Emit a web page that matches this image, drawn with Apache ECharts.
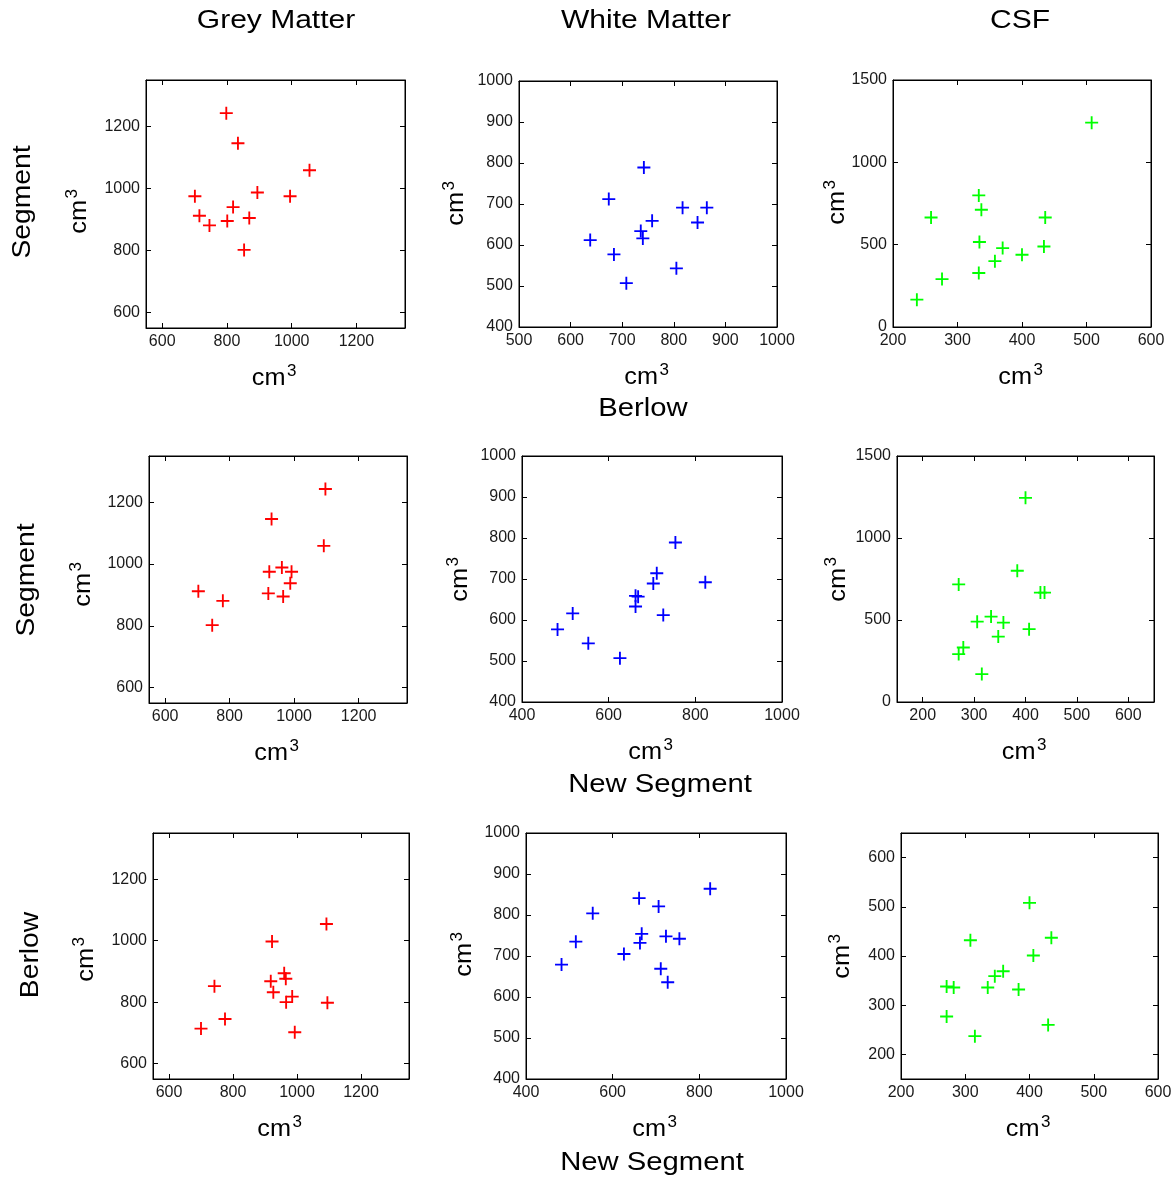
<!DOCTYPE html>
<html>
<head>
<meta charset="utf-8">
<script src="https://cdn.jsdelivr.net/npm/echarts@6/dist/echarts.min.js"></script>
<style>
html,body{margin:0;padding:0;background:#fff;}
#chart{width:1176px;height:1178px;}
</style>
</head>
<body>
<div id="chart"></div>
<script>
// ---------- Data (x, y) per panel ----------
// Row 1: y = Segment, x = Berlow
const gmBerlowSegment = [[798,1243],[834,1146],[1055,1059],[701,975],[894,987],[995,975],[819,940],[715,912],[746,881],[801,895],[869,905],[853,802]];
const wmBerlowSegment = [[742,789],[674,712],[758,659],[817,691],[864,691],[846,655],[736,634],[740,616],[638,612],[684,577],[708,507],[805,543]];
const csfBerlowSegment = [[508,1241],[333,799],[337,712],[259,665],[436,665],[334,516],[370,479],[434,489],[400,439],[358,400],[333,328],[276,291],[237,166]];
// Row 2: y = Segment, x = New Segment
const gmNewSegSegment = [[1097,1243],[930,1146],[1092,1059],[962,989],[923,975],[992,975],[988,938],[703,912],[920,905],[966,895],[779,881],[746,802]];
const wmNewSegSegment = [[754,789],[711,714],[703,689],[823,692],[662,659],[668,657],[662,633],[726,612],[517,616],[482,577],[553,543],[626,507]];
const csfNewSegSegment = [[400,1245],[384,800],[270,717],[429,667],[437,667],[333,521],[306,490],[357,484],[407,444],[347,399],[279,332],[270,292],[315,170]];
// Row 3: y = Berlow, x = New Segment
const gmNewSegBerlow = [[1092,1054],[922,997],[960,894],[965,876],[918,868],[742,852],[926,832],[985,818],[966,800],[1095,798],[775,745],[700,714],[993,702]];
const wmNewSegBerlow = [[825,864],[661,841],[706,821],[554,804],[667,754],[663,732],[723,748],[754,742],[515,735],[626,705],[482,679],[711,669],[727,636]];
const csfNewSegBerlow = [[400,508],[434,437],[308,432],[406,401],[359,369],[346,359],[335,336],[383,332],[271,338],[282,336],[271,277],[429,260],[315,237]];

// ---------- Tick labels ----------
const gmTicks = [600, 800, 1000, 1200];
const wmTicks100 = [400, 500, 600, 700, 800, 900, 1000];
const wmTicksX100 = [500, 600, 700, 800, 900, 1000];
const wmTicks200 = [400, 600, 800, 1000];
const csfTicks100 = [200, 300, 400, 500, 600];
const csfTicks500 = [0, 500, 1000, 1500];

// ---------- Text ----------
const columnTitles = ['Grey Matter', 'White Matter', 'CSF'];
const rowLabels = ['Segment', 'Segment', 'Berlow'];
const bottomLabels = ['Berlow', 'New Segment', 'New Segment'];

const FONT = '"Liberation Sans", Arial, Helvetica, sans-serif';
const RED = '#ff0000', BLUE = '#0000ff', GREEN = '#00ff00';

const panels = [
  {data: gmBerlowSegment, color: RED, grid: [146, 80, 259, 248], x: [550, 1350, gmTicks], y: [550, 1350, gmTicks]},
  {data: wmBerlowSegment, color: BLUE, grid: [519, 81, 258, 246], x: [500, 1000, wmTicksX100], y: [400, 1000, wmTicks100]},
  {data: csfBerlowSegment, color: GREEN, grid: [893, 80, 258, 247], x: [200, 600, csfTicks100], y: [0, 1500, csfTicks500]},
  {data: gmNewSegSegment, color: RED, grid: [149, 456, 258, 247], x: [550, 1350, gmTicks], y: [550, 1350, gmTicks]},
  {data: wmNewSegSegment, color: BLUE, grid: [522, 456, 260, 246], x: [400, 1000, wmTicks200], y: [400, 1000, wmTicks100]},
  {data: csfNewSegSegment, color: GREEN, grid: [897, 456, 257, 246], x: [150, 650, csfTicks100], y: [0, 1500, csfTicks500]},
  {data: gmNewSegBerlow, color: RED, grid: [153, 833, 256, 246], x: [550, 1350, gmTicks], y: [550, 1350, gmTicks]},
  {data: wmNewSegBerlow, color: BLUE, grid: [526, 833, 260, 246], x: [400, 1000, wmTicks200], y: [400, 1000, wmTicks100]},
  {data: csfNewSegBerlow, color: GREEN, grid: [901, 833, 257, 246], x: [200, 600, csfTicks100], y: [150, 650, csfTicks100]}
];

// rotated cm3 anchor positions
const yLabelPos = [[80,212],[457,204],[838,203],[84,585],[461,580],[839,580],[87,960],[465,955],[843,957]];

const PLUS = 'path://M12,0H16V12H28V16H16V28H12V16H0V12H12Z';
const plain = v => String(v);

const grids = [], xAxes = [], yAxes = [], series = [];
panels.forEach((p, i) => {
  grids.push({left: p.grid[0], top: p.grid[1], width: p.grid[2], height: p.grid[3],
    show: true, borderColor: '#000', borderWidth: 1, backgroundColor: '#fff'});
  const axLine = {show: true, onZero: false, lineStyle: {color: '#000', width: 1}};
  const mkX = (pos, lab) => ({type: 'value', gridIndex: i, position: pos, min: p.x[0], max: p.x[1],
    axisLine: axLine, splitLine: {show: false},
    axisTick: {show: true, inside: true, length: 5, customValues: p.x[2], lineStyle: {color: '#000'}},
    axisLabel: {show: lab, customValues: p.x[2], formatter: plain, fontSize: 16, fontFamily: FONT, color: '#1a1a1a', margin: 6}});
  const mkY = (pos, lab) => ({type: 'value', gridIndex: i, position: pos, min: p.y[0], max: p.y[1],
    axisLine: axLine, splitLine: {show: false},
    axisTick: {show: true, inside: true, length: 5, customValues: p.y[2], lineStyle: {color: '#000'}},
    axisLabel: {show: lab, customValues: p.y[2], formatter: plain, fontSize: 16, fontFamily: FONT, color: '#1a1a1a', margin: 6}});
  xAxes.push(mkX('bottom', true), mkX('top', false));
  yAxes.push(mkY('left', true), mkY('right', false));
  series.push({type: 'scatter', xAxisIndex: 2 * i, yAxisIndex: 2 * i, data: p.data,
    symbol: PLUS, symbolSize: 13, itemStyle: {color: p.color, opacity: 1}, silent: true});
});

function cm3(cx, cy, rotated) {
  return {type: 'group', x: cx, y: cy, rotation: rotated ? Math.PI / 2 : 0, children: [
    {type: 'text', x: 12, y: 0, scaleX: 1.1, style: {text: 'cm', font: '23px ' + FONT, textAlign: 'right', textVerticalAlign: 'middle', fill: '#000'}},
    {type: 'text', x: 13.5, y: -8, style: {text: '3', font: '17px ' + FONT, textAlign: 'left', textVerticalAlign: 'middle', fill: '#000'}}
  ]};
}

const graphics = [];
const titleX = [276, 646, 1020];
columnTitles.forEach((t, i) => graphics.push({type: 'text', x: titleX[i], y: 21, scaleX: 1.2,
  style: {text: t, font: '25px ' + FONT, textAlign: 'center', textVerticalAlign: 'middle', fill: '#000'}}));
const rowPos = [[23, 202], [27, 580], [31, 955]];
rowLabels.forEach((t, i) => graphics.push({type: 'text', x: rowPos[i][0], y: rowPos[i][1], rotation: Math.PI / 2, scaleX: 1.13,
  style: {text: t, font: '25px ' + FONT, textAlign: 'center', textVerticalAlign: 'middle', fill: '#000'}}));
const bottomPos = [[643, 409], [660, 785], [652, 1163]];
bottomLabels.forEach((t, i) => graphics.push({type: 'text', x: bottomPos[i][0], y: bottomPos[i][1], scaleX: 1.17,
  style: {text: t, font: '25px ' + FONT, textAlign: 'center', textVerticalAlign: 'middle', fill: '#000'}}));
panels.forEach((p, i) => {
  const g = p.grid;
  graphics.push(cm3(g[0] + g[2] / 2 - 2, g[1] + g[3] + 51, false));
  graphics.push(cm3(yLabelPos[i][0], yLabelPos[i][1], true));
});

const chart = echarts.init(document.getElementById('chart'), null, {renderer: 'canvas'});
chart.setOption({
  animation: false,
  backgroundColor: '#fff',
  grid: grids, xAxis: xAxes, yAxis: yAxes, series: series,
  graphic: graphics
});
</script>
</body>
</html>
